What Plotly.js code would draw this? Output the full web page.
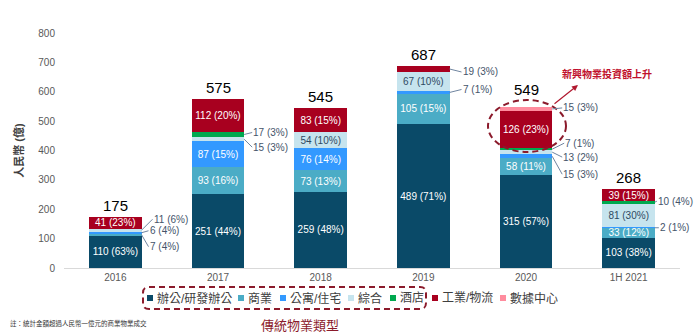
<!DOCTYPE html>
<html>
<head>
<meta charset="utf-8">
<script src="https://cdn.plot.ly/plotly-3.0.1.min.js"></script>
<style>html,body{margin:0;padding:0;background:#fff;}#chart{width:698px;height:332px;}</style>
</head>
<body>
<div id="chart"></div>
<script>
// ---------- data ----------
const categories = ['2016', '2017', '2018', '2019', '2020', '1H 2021'];
const seriesNames = ['辦公/研發辦公', '商業', '公寓/住宅', '綜合', '酒店', '工業/物流', '數據中心'];
const office        = [110, 251, 259, 489, 315, 103];
const officePct     = [63, 44, 48, 71, 57, 38];
const retail        = [7, 93, 73, 105, 58, 33];
const retailPct     = [4, 16, 13, 15, 11, 12];
const apartment     = [6, 87, 76, 7, 15, 2];
const apartmentPct  = [4, 15, 14, 1, 3, 1];
const composite     = [11, 15, 54, 67, 13, 81];
const compositePct  = [6, 3, 10, 10, 2, 30];
const hotel         = [0, 17, 0, 0, 7, 10];
const hotelPct      = [0, 3, 0, 0, 1, 4];
const industrial    = [41, 112, 83, 19, 126, 39];
const industrialPct = [23, 20, 15, 3, 23, 15];
const dataCenter    = [0, 0, 0, 0, 15, 0];
const dataCenterPct = [0, 0, 0, 0, 3, 0];
const totals        = [175, 575, 545, 687, 549, 268];
const yTicks        = [0, 100, 200, 300, 400, 500, 600, 700, 800];
const yTitle = '人民幣 (億)';
const footnote = '註：統計金額超過人民幣一億元的商業物業成交';
const groupLabel = '傳統物業類型';
const calloutText = '新興物業投資額上升';

// ---------- styles ----------
const FONT = 'Liberation Sans, Arial, "Noto Sans CJK TC", sans-serif';
const colors = ['#0a4a68', '#4bacc6', '#3399ff', '#c6e4ee', '#00a94f', '#a8001f', '#ff8c9e'];
const insideTextColors = ['#ffffff', '#ffffff', '#ffffff', '#2e4a62', '#ffffff', '#ffffff', '#ffffff'];
const values = [office, retail, apartment, composite, hotel, industrial, dataCenter];
const pcts = [officePct, retailPct, apartmentPct, compositePct, hotelPct, industrialPct, dataCenterPct];
const BARGAP = 0.49;
const HALF = (1 - BARGAP) / 2;
const INSIDE_MIN = 30;
const totalShift = [1, 1, 1, 1, 7, 1];

// leader-label offsets (pixels) for small segments: [seriesIndex, categoryIndex, ax, ay]
const outsideOffsets = [
  [3, 0, 11, -11], [2, 0, 7, -2], [1, 0, 7, 12],
  [4, 1, 8, -2], [3, 1, 8, 8],
  [5, 3, 12, 3], [2, 3, 12, -3],
  [6, 4, 10, -1], [4, 4, 12, -6], [3, 4, 10, 5], [2, 4, 10, 18],
  [4, 5, 2, -1], [2, 5, 4, 0]
];

// plot-area pixel geometry
const L = 64, R = 680, T = 33, B = 268;
const px = x => (x - L) / (R - L);
const py = y => (B - y) / (B - T);

const traces = values.map((vals, s) => ({
  type: 'bar',
  name: seriesNames[s],
  x: categories,
  y: vals,
  marker: {color: colors[s], line: {width: 0}},
  text: vals.map((v, i) => v >= INSIDE_MIN ? `${v} (${pcts[s][i]}%)` : ''),
  textposition: 'inside',
  insidetextanchor: 'middle',
  textangle: 0,
  constraintext: 'none',
  textfont: {family: FONT, size: 10, color: insideTextColors[s]},
  hoverinfo: 'skip',
  showlegend: false
}));

const annotations = [];
// totals above bars
totals.forEach((t, i) => annotations.push({
  x: i, y: t, xref: 'x', yref: 'y', text: String(t), showarrow: false,
  yanchor: 'bottom', yshift: totalShift[i], font: {family: FONT, size: 15, color: '#000'}
}));
// outside labels with leader lines
outsideOffsets.forEach(([s, i, ax, ay]) => {
  let base = 0;
  for (let k = 0; k < s; k++) base += values[k][i];
  const v = values[s][i];
  annotations.push({
    x: i + HALF, y: base + v / 2, xref: 'x', yref: 'y',
    text: `${v} (${pcts[s][i]}%)`,
    showarrow: true, arrowhead: 0, arrowwidth: 1, arrowcolor: '#7085a0',
    ax: ax, ay: ay, xanchor: 'left', yanchor: 'middle', standoff: 0, startstandoff: 0,
    borderpad: 0,
    font: {family: FONT, size: 10, color: '#44546a'}
  });
});

// custom legend
const legendSquareX = [147, 238, 280, 348, 390, 432, 500];
const legendY = 298, SQ = 6;
const shapes = [];
seriesNames.forEach((n, s) => {
  const x = legendSquareX[s];
  shapes.push({type: 'rect', xref: 'paper', yref: 'paper',
    x0: px(x), x1: px(x + SQ), y0: py(legendY + SQ / 2), y1: py(legendY - SQ / 2),
    fillcolor: colors[s], line: {width: 0}});
  annotations.push({xref: 'paper', yref: 'paper', x: px(x + SQ + 2), y: py(legendY),
    text: n, showarrow: false, xanchor: 'left', yanchor: 'middle',
    font: {family: FONT, size: 12, color: '#404040'}});
});

// dashed rounded box around traditional types
function rr(x0, y0, x1, y1, r) {
  const P = (x, y) => `${px(x)},${py(y)}`;
  return `M ${P(x0 + r, y0)} L ${P(x1 - r, y0)} Q ${P(x1, y0)} ${P(x1, y0 + r)} L ${P(x1, y1 - r)} ` +
         `Q ${P(x1, y1)} ${P(x1 - r, y1)} L ${P(x0 + r, y1)} Q ${P(x0, y1)} ${P(x0, y1 - r)} ` +
         `L ${P(x0, y0 + r)} Q ${P(x0, y0)} ${P(x0 + r, y0)} Z`;
}
shapes.push({type: 'path', xref: 'paper', yref: 'paper', path: rr(143, 287, 426, 309, 6),
  line: {color: '#8b1a2b', width: 2, dash: '6px,4px'}, fillcolor: 'rgba(0,0,0,0)'});
annotations.push({xref: 'paper', yref: 'paper', x: px(300), y: py(325), text: groupLabel,
  showarrow: false, xanchor: 'center', yanchor: 'middle',
  font: {family: FONT, size: 13, color: '#8b1a2b'}});

// ellipse callout for 2020
shapes.push({type: 'circle', xref: 'paper', yref: 'paper',
  x0: px(488), x1: px(566), y0: py(152), y1: py(100),
  line: {color: '#8b1a2b', width: 2, dash: '6px,4px'}, fillcolor: 'rgba(0,0,0,0)'});
annotations.push({xref: 'paper', yref: 'paper', x: px(578), y: py(85), text: '',
  showarrow: true, arrowhead: 2, arrowsize: 1, arrowwidth: 1.2, arrowcolor: '#b0182f',
  ax: -25, ay: 20});
annotations.push({xref: 'paper', yref: 'paper', x: px(607), y: py(74), text: '<b>' + calloutText + '</b>',
  showarrow: false, xanchor: 'center', yanchor: 'middle',
  font: {family: FONT, size: 10, color: '#c0102c'}});

// footnote
annotations.push({xref: 'paper', yref: 'paper', x: px(8), y: py(323), text: footnote,
  showarrow: false, xanchor: 'left', yanchor: 'middle',
  font: {family: FONT, size: 6.5, color: '#333'}});

const layout = {
  width: 698, height: 332,
  margin: {l: L, r: 698 - R, t: T, b: 332 - B, pad: 0},
  paper_bgcolor: '#fff', plot_bgcolor: '#fff',
  barmode: 'stack', bargap: BARGAP,
  showlegend: false,
  xaxis: {
    type: 'category', range: [-0.5, 5.5], showgrid: false, zeroline: false,
    showline: true, linecolor: '#d9d9d9', linewidth: 1, ticks: '',
    tickfont: {family: FONT, size: 10, color: '#595959'}, fixedrange: true
  },
  yaxis: {
    range: [0, 800], tickvals: yTicks, showgrid: false, zeroline: false, showline: false,
    ticks: '', ticklabelstandoff: 8,
    tickfont: {family: FONT, size: 10, color: '#595959'},
    title: {text: '<b>' + yTitle + '</b>', standoff: 12, font: {family: FONT, size: 11, color: '#404040'}},
    fixedrange: true
  },
  annotations: annotations,
  shapes: shapes
};

Plotly.newPlot('chart', traces, layout, {displayModeBar: false, staticPlot: true});
</script>
</body>
</html>
